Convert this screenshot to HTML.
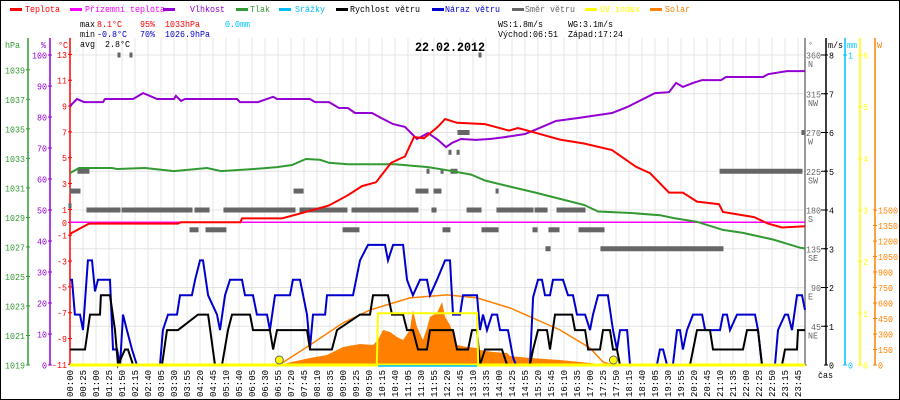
<!DOCTYPE html>
<html><head><meta charset="utf-8"><title>Meteo 22.02.2012</title>
<style>html,body{margin:0;padding:0;background:#fff}svg{display:block}text{font-family:"Liberation Mono","DejaVu Sans Mono",monospace}</style>
</head><body>
<svg id="chart" width="900" height="400" viewBox="0 0 900 400" xmlns="http://www.w3.org/2000/svg"></svg>
<script>
// ---- data (t = time slot index, one slot per time label) ----
const timeLabels=["00:00","00:25","01:00","01:25","01:50","02:15","02:40","03:05","03:30","03:55","04:20","04:45","05:10","05:40","06:05","06:30","06:55","07:20","07:45","08:10","08:35","09:00","09:25","09:50","10:15","10:40","11:05","11:30","11:55","12:20","12:45","13:10","13:35","14:00","14:25","14:55","15:20","15:45","16:10","16:35","17:00","17:25","17:50","18:15","18:40","19:05","19:30","19:55","20:20","20:45","21:10","21:35","22:00","22:25","22:50","23:15","23:45"];
const tempT=[0,1.46,8.3,8.5,13.1,13.23,16.31,17.77,19.92,21.38,22.46,23.54,24.69,25.77,26.46,27.23,28.31,28.85,29.77,31.92,33.77,34.46,35.92,37.69,39.54,41.69,43.54,44.62,46.08,47.15,48.23,49.92,50.23,52.62,53.69,54.77,56.54];
const tempV=[-0.9,-0.1,-0.1,0,0,0.3,0.3,0.7,1.3,2.1,2.8,3.1,4.6,5.1,6.6,6.5,7.4,8.0,7.7,7.6,7.1,7.3,6.9,6.4,6.1,5.6,4.3,3.8,2.3,2.3,1.6,1.4,0.8,0.4,-0.1,-0.4,-0.3];
const groundT=[0,56.54];
const groundV=[0,0];
const humT=[0,0.54,1.08,2.54,2.69,4.85,5.62,6.15,6.69,8,8.15,8.54,8.85,12.85,13.08,14.46,15.62,15.92,18.46,18.85,19.92,20.69,21.38,21.92,23.23,23.92,24.85,25.77,26.69,27.54,28.31,28.92,29.38,30.08,31.23,32.31,33.38,35,35.92,37.38,39.15,41.69,42.85,45,46.08,46.62,47.15,47.92,48.62,50.08,50.46,53.31,53.69,55.15,56.54];
const humV=[83.5,85.8,84.8,84.8,85.8,85.8,87.7,86.8,85.8,85.8,86.8,85.2,85.8,85.8,84.8,84.8,86.5,85.8,85.8,84.8,84.8,82.9,82.9,81.3,81.3,79.7,77.7,76.8,72.9,74.8,72.6,70.3,71.6,72.9,72.6,72.9,73.5,74.5,76.1,78.7,79.7,81.3,83.2,87.7,88,91,89.7,91,91.9,91.9,92.9,92.9,93.8,94.8,94.8];
const presT=[0,0.69,3.23,3.62,5.77,8,10.54,11.62,14.15,15.92,17.08,18.15,19.23,19.92,21.38,25,27.54,29,30.85,31.92,33.77,35.92,37.69,39.54,40.62,43.15,45.38,46.46,48.23,50.23,51.77,54.08,56.15,56.54];
const presV=[1032.0,1032.35,1032.35,1032.28,1032.35,1032.14,1032.35,1032.14,1032.28,1032.41,1032.55,1032.96,1032.9,1032.7,1032.6,1032.6,1032.41,1032.2,1031.9,1031.5,1031.1,1030.65,1030.25,1029.85,1029.4,1029.3,1029.15,1028.95,1028.7,1028.15,1027.95,1027.5,1026.95,1026.9];
const windT=[0,1.15,1.54,2.31,2.38,3.08,3.46,3.69,4.23,4.46,4.85,7.08,7.46,8.31,9.85,10.62,11.15,11.69,12.15,12.46,13.85,14.08,15.38,15.62,15.92,18.23,18.46,20.15,20.54,22.31,23.08,23.31,24.46,24.77,25.62,25.92,26.38,26.77,27.46,27.69,29.46,29.77,30.62,30.92,31.31,31.54,31.92,33.23,33.62,35.38,35.62,36,36.69,36.92,37.31,38.62,38.85,39.62,39.85,40.77,41,41.54,41.77,42.08,42.31,47.69,48.23,49.23,49.46,51.77,52.08,52.92,53.23,54.77,55,55.92,56,56.54];
const windV=[0.4,0.4,1.3,1.3,1.8,1.8,0.9,0,0.4,0.4,0,0,0.9,0.9,1.3,1.3,0,0,0.9,1.3,1.3,0.9,0.9,0.4,0.9,0.9,0.4,0.4,0.9,1.3,1.3,1.8,1.8,1.3,1.3,0.9,0.9,0.4,0.4,0.9,0.9,0.4,0.4,0.9,0.9,0,0.4,0.4,0,0,0.4,0.9,0.9,0.4,1.3,1.3,0.9,0.9,0.4,0.4,0.9,0.9,0.4,0.4,0,0,0.9,0.9,0.4,0.4,0.9,0.9,0,0,0.4,0.4,0.9,0.9];
const gustT=[0,0.15,0.38,0.77,1,1.38,1.69,1.92,2.15,3.08,3.31,3.62,3.85,4.08,4.38,4.77,5.15,6.92,7.15,7.54,8.23,8.46,9.38,9.62,10,10.23,10.62,11.31,11.54,11.92,12.31,13.23,13.46,14.08,14.38,15.15,15.38,15.77,16.92,17.15,17.69,18.23,18.46,18.69,19.62,19.77,21.77,22.31,22.92,24.23,24.46,24.85,25.62,25.92,26.38,26.92,27.46,27.69,28.23,28.85,29.23,29.46,30,30.23,31.31,31.54,31.77,32.08,32.46,32.85,33.08,33.69,34.08,34.3,35.38,35.62,36,36.31,36.54,36.92,37.15,37.92,38.31,38.69,39,39.62,40,40.23,40.62,41.38,41.77,42.08,42.31,42.85,43.08,45.15,45.38,45.62,45.92,46.38,46.69,46.92,47.15,47.46,47.92,48.62,48.85,50,50.23,50.54,50.77,51.31,52.69,52.92,53.23,54.23,54.46,55,55.23,55.54,55.92,56.31,56.54];
const gustV=[2.2,2.2,1.3,1.3,0.9,2.7,2.7,1.9,2.2,2.2,0.4,0.4,0,1.3,0.9,0.4,0,0,0.9,1.3,1.3,1.8,1.8,2.2,2.7,2.7,1.8,1.3,0.9,1.8,2.2,2.2,1.8,1.8,1.3,1.3,0.9,1.8,1.8,2.2,2.2,1.3,0.44,1.3,1.3,1.8,1.8,2.7,3.1,3.1,2.7,3.1,3.1,2.2,1.8,2.2,2.2,1.8,2.2,2.7,2.7,1.3,1.3,1.8,1.8,0.9,1.3,0.9,1.3,1.3,0.9,0.9,0.2,0,0,1.75,2.2,2.2,1.8,1.8,2.2,2.2,1.8,1.8,1.3,1.3,0.9,1.3,1.8,1.8,0.9,0.4,0.9,0.9,0,0,0.4,0.4,0,0,0.9,0.9,0.4,0.9,1.3,1.3,0.9,0.9,1.3,1.3,0.9,1.3,1.3,0.9,0,0,0.9,1.3,1.3,0.9,1.8,1.8,1.42];
const solarT=[16.38,16.69,18.46,19.77,21,22.31,23.31,23.69,24.08,24.62,25.15,25.62,26.15,26.38,26.69,27.15,27.46,27.69,28.23,28.62,28.85,29.23,29.77,30.54,31.31,31.54,32.54,33.62,33.85,35.38,37.69,40,41.54];
const solarV=[0,19,68,97,174,203,194,242,339,319,271,242,339,532,368,242,358,465,503,610,465,387,194,174,165,145,126,116,87,68,48,19,0];
const solarMaxT=[16.08,18.46,21,23.08,26.15,29,31.31,33.85,37.69,40,41,41.77];
const solarMaxV=[0,194,407,532,649,678,649,552,339,165,29,0];
const uvT=[0,23.6,23.69,31.31,31.4,56.54];
const uvV=[0,0,1,1,0,0];
const sunT=[16.1,41.8];
const dirStart=[3.77,4.69,31.54,29.92,56.38,29.23,29.85,0.69,27.54,28.62,29.38,50.08,0.08,17.31,26.69,28.08,32.85,0,1.38,4.08,4.77,9.69,11.92,17.77,21.77,22.23,27.92,30.62,32.92,35.85,37.54,39.54,9.31,10.54,21.08,28.77,31.77,35.69,36.92,39.23,36.69,40.92];
const dirEnd=[3.77,4.69,31.54,30.62,56.38,29.23,29.85,1.38,27.54,28.62,29.69,56.23,0.69,17.85,27.46,28.46,32.85,0,3.77,4.62,9.31,10.62,17.23,21.23,22,26.69,28.08,31.54,35.54,36.62,39.38,39.54,9.77,11.92,22.15,29.15,32.85,35.85,37.54,41,36.85,50.15];
const dirDeg=[360,360,360,270,270,247,247,225,225,225,225,225,202,202,202,202,202,185,180,180,180,180,180,180,180,180,180,180,180,180,180,180,157,157,157,157,157,157,157,157,135,135];
const hpaTicks=[1019,1021,1023,1025,1027,1029,1031,1033,1035,1037,1039];
const humTicks=[0,10,20,30,40,50,60,70,80,90,100];
const tempTicks=[-11,-9,-7,-5,-3,-1,0,1,3,5,7,9,11,13];
const dirTicks=[45,90,135,180,225,270,315,360];
const dirNames=["NE","E","SE","S","SW","W","NW","N"];
const msTicks=[0,1,2,3,4,5,6,7,8];
const uvTicks=[0,1,2,3,4,5,6];
const wTicks=[0,150,300,450,600,750,900,1050,1200,1350,1500];

// ---- scales ----
const X0=70,X1=805,Y0=55,Y1=365,SLOT=13;
const xs=t=>X0+t*SLOT;
const yT=v=>222.3-v*12.917;
const yH=v=>Y1-v*3.1;
const yP=v=>Y1-(v-1019)*14.76;
const yM=v=>Y1-v*38.75;
const yD=v=>Y1-v*0.8611;
const yW=v=>Y1-v*0.10333;
const yU=v=>Y1-v*51.667;

const svg=document.getElementById('chart');
const NS='http://www.w3.org/2000/svg';
function mk(tag,attrs,parent){const e=document.createElementNS(NS,tag);for(const k in attrs)e.setAttribute(k,attrs[k]);(parent||svg).appendChild(e);return e;}
function txt(s,x,y,fill,opts){opts=opts||{};const e=mk('text',{x:x,y:y,fill:fill,'font-size':opts.size||9,'text-anchor':opts.anchor||'start'},opts.parent);if(opts.bold)e.setAttribute('font-weight','bold');if(!opts.nofit){e.setAttribute('textLength',(opts.cw||5)*[...s].length);e.setAttribute('lengthAdjust','spacingAndGlyphs');}if(opts.transform)e.setAttribute('transform',opts.transform);e.textContent=s;return e;}
function pts(T,V,fy){return T.map((t,i)=>xs(t).toFixed(1)+','+fy(V[i]).toFixed(1)).join(' ');}

mk('rect',{x:0.5,y:0.5,width:899,height:399,fill:'#fff',stroke:'#000'});

// grid
const grid=mk('g',{});
timeLabels.forEach((l,i)=>{mk('line',{x1:xs(i),x2:xs(i),y1:Y0-17,y2:Y1,stroke:'#e4e4e4','stroke-width':1},grid);});
msTicks.forEach(v=>{if(v>0)mk('line',{x1:X0,x2:X1,y1:yM(v),y2:yM(v),stroke:'#e4e4e4','stroke-width':1},grid);});

// legend
const legendItems=[["Teplota","#ff0000",10,25],["Přízemní teplota","#ff00ff",70,85],["Vlhkost","#9400d3",163,190],["Tlak","#339933",236,250],["Srážky","#00bfff",279,295],["Rychlost větru","#000000",336,350],["Náraz větru","#0000cc",432,445],["Směr větru","#666666",512,525],["UV index","#ffff00",585,600],["Solar","#ff8000",650,665]];
legendItems.forEach(it=>{const g=mk('g',{});
mk('rect',{x:it[2],y:8,width:12,height:3,fill:it[1]},g);txt(it[0],it[3],12,it[1],{parent:g});});

// stats
const st=mk('g',{});
txt("max",80,27,'#000',{parent:st});txt("8.1°C",97,27,'#ff0000',{parent:st});txt("95%",140,27,'#ff0000',{parent:st});txt("1033hPa",165,27,'#ff0000',{parent:st});txt("0.0mm",225,27,'#00bfff',{parent:st});
txt("min",80,37,'#000',{parent:st});txt("-0.8°C",97,37,'#0000cc',{parent:st});txt("70%",140,37,'#0000cc',{parent:st});txt("1026.9hPa",165,37,'#0000cc',{parent:st});
txt("avg",80,47,'#000',{parent:st});txt("2.8°C",105,47,'#000',{parent:st});
txt("WS:1.8m/s",498,27,'#000',{parent:st});txt("WG:3.1m/s",568,27,'#000',{parent:st});
txt("Východ:06:51",498,37,'#000',{parent:st});txt("Západ:17:24",568,37,'#000',{parent:st});
const title=txt("22.02.2012",450,51,'#000',{size:13,bold:true,anchor:'middle',cw:7});

// axes
function axis(name,x,color,ticks,fy,labelFn,side,unit,unitX){const g=mk('g',{});
mk('line',{x1:x,x2:x,y1:38,y2:Y1,stroke:color,'stroke-width':1.5},g);
ticks.forEach((v,i)=>{const y=fy(v);mk('line',{x1:x-2,x2:x+2,y1:y,y2:y,stroke:color},g);
const s=labelFn(v,i);if(side==='left')txt(s,x-3,y+3.5,color,{anchor:'end',parent:g});else txt(s,x+3,y+3.5,color,{parent:g});});
txt(unit,unitX,48,color,{parent:g});return g;}
axis('pressure-axis',28,'#339933',hpaTicks,yP,v=>String(v),'left','hPa',5);
axis('humidity-axis',50,'#9400d3',humTicks,yH,v=>String(v),'left','%',41);
axis('temperature-axis',70,'#ff0000',tempTicks,yT,v=>String(v),'left','°C',58);
// direction axis
const dg=axis('direction-axis',805,'#777777',[0],yD,()=>'','right','°',808);
dirTicks.forEach((v,i)=>{const y=yD(v);mk('line',{x1:821,x2:826,y1:y,y2:y,stroke:'#000'},dg);txt(String(v),821,y+3.5,'#666',{anchor:'end',parent:dg});txt(dirNames[i],808,y+12,'#666',{parent:dg});});
axis('wind-speed-axis',826,'#000000',msTicks,yM,v=>String(v),'right','m/s',828);
axis('rain-axis',845,'#00bfff',[0,1],v=>Y1-v*310,v=>String(v),'right','mm',847);
axis('uv-axis',860,'#ffff00',uvTicks,yU,v=>String(v),'right','',862);
axis('solar-axis',875,'#ff8000',wTicks,yW,v=>String(v),'right','W',877);
txt("čas",818,378,'#000');

// time labels
const tg=mk('g',{});
timeLabels.forEach((l,i)=>{const x=xs(i)+3;txt(l,x,370,'#000',{anchor:'end',parent:tg,transform:'rotate(-90 '+x+' 370)',cw:5.4});});

// series
const sol=mk('polygon',{points:xs(solarT[0])+','+Y1+' '+pts(solarT,solarV,yW)+' '+xs(solarT[solarT.length-1])+','+Y1,fill:'#ff8000'});

const smax=mk('polyline',{points:pts(solarMaxT,solarMaxV,yW),fill:'none',stroke:'#ff8000','stroke-width':1.5});

// direction marks
dirStart.forEach((s,i)=>{const r=mk('rect',{x:xs(s)-1.5,y:yD(dirDeg[i])-2.5,width:xs(dirEnd[i])-xs(s)+3,height:5,fill:'#666666'});
});
const gnd=mk('polyline',{points:pts(groundT,groundV,yT),fill:'none',stroke:'#ff00ff','stroke-width':1.5});

const pres=mk('polyline',{points:pts(presT,presV,yP),fill:'none',stroke:'#339933','stroke-width':2});

const hum=mk('polyline',{points:pts(humT,humV,yH),fill:'none',stroke:'#9400d3','stroke-width':2});

const tmp=mk('polyline',{points:pts(tempT,tempV,yT),fill:'none',stroke:'#ff0000','stroke-width':2});

const gust=mk('polyline',{points:pts(gustT,gustV,yM),fill:'none',stroke:'#0000cc','stroke-width':2});

const wind=mk('polyline',{points:pts(windT,windV,yM),fill:'none',stroke:'#000000','stroke-width':2});

const uv=mk('polyline',{points:pts(uvT,uvV,yU),fill:'none',stroke:'#ffff00','stroke-width':2});

const base=mk('line',{x1:X0,x2:X1,y1:Y1,y2:Y1,stroke:'#ffff00','stroke-width':3});

const rain=mk('line',{x1:xs(uvT[2]),x2:xs(uvT[3]),y1:Y1+1,y2:Y1+1,stroke:'#00bfff','stroke-width':1.5});

sunT.forEach(t=>{const c=mk('circle',{cx:xs(t),cy:Y1-5,r:4,fill:'#ffff00',stroke:'#666','stroke-width':1});
});
</script>
</body></html>
